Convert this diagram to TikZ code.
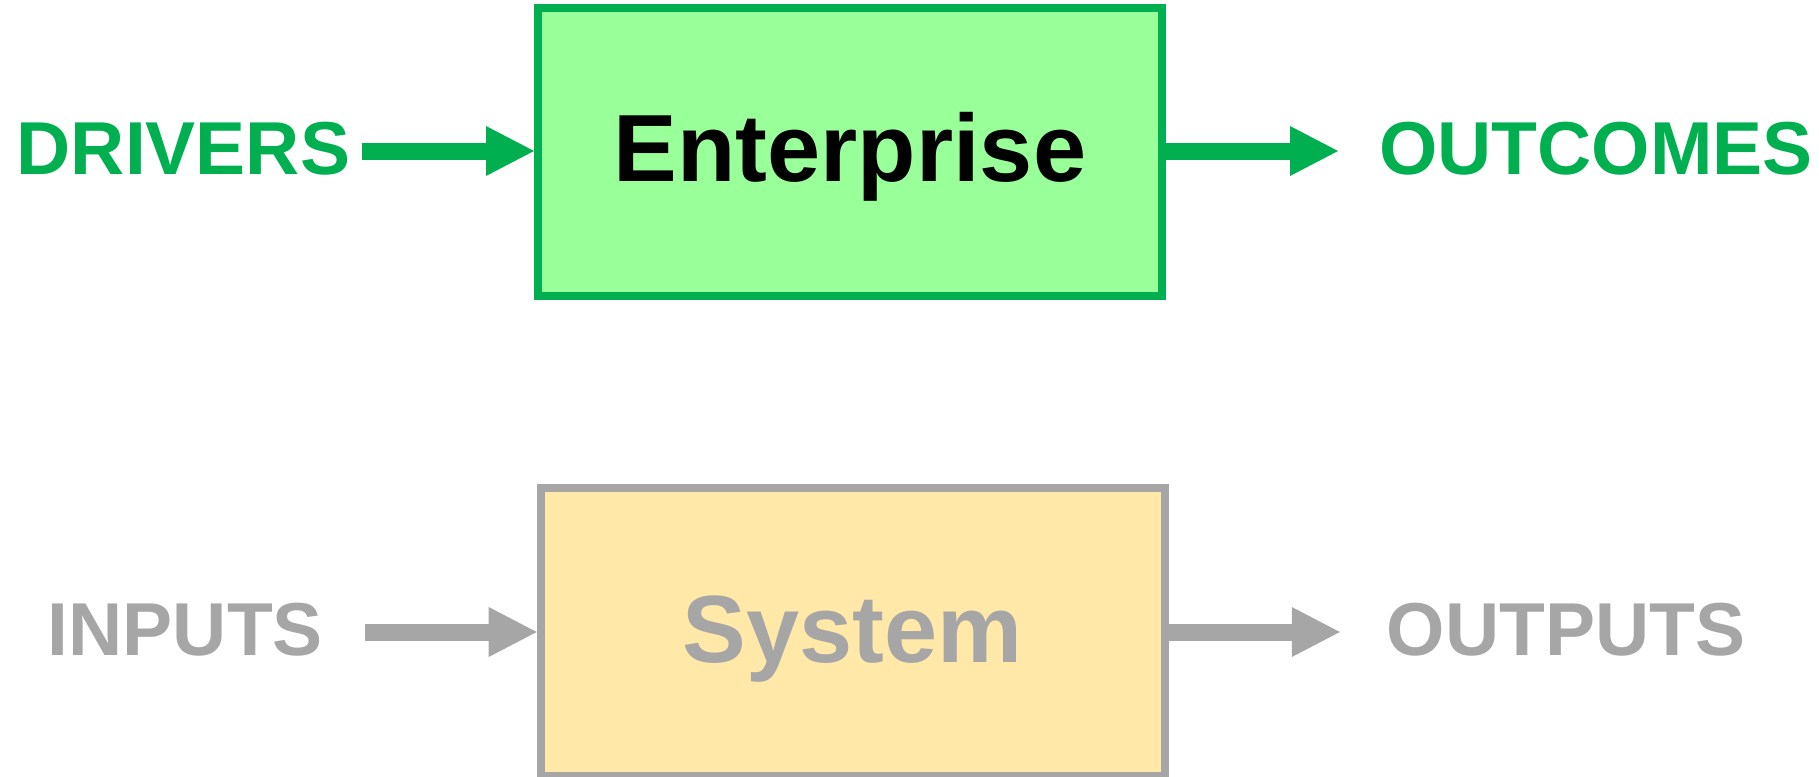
\documentclass[tikz,border=0pt]{standalone}
\usepackage{fontspec}
\setmainfont{Liberation Sans}
\usetikzlibrary{arrows.meta}
\definecolor{entgreen}{HTML}{00B050}
\definecolor{entfill}{HTML}{99FF99}
\definecolor{sysgray}{HTML}{A6A6A6}
\definecolor{sysfill}{HTML}{FFE8A8}
\begin{document}
\begin{tikzpicture}[x=1pt,y=-1pt,
  blockbox/.style={rectangle, line width=8pt, minimum width=624pt, minimum height=288pt, inner sep=0pt},
  sidelabel/.style={inner sep=0pt, anchor=base west, font=\fontsize{75}{90}\selectfont\bfseries},
  blocklabel/.style={inner sep=0pt, anchor=base, font=\fontsize{95.5}{110}\selectfont\bfseries},
  flow/.style={line width=17pt, -{Triangle[length=48pt,width=50pt,line width=0pt]}}
]
\useasboundingbox (0,0) rectangle (1819,776);
\node[blockbox, draw=entgreen, fill=entfill] (ent) at (850,152) {};
\node[blockbox, draw=sysgray, fill=sysfill] (sys) at (852.7,632) {};
\node[blocklabel, text=black] (entlabel) at (850,181.7) {Enterprise};
\node[blocklabel, text=sysgray] (syslabel) at (852.7,662.5) {System};
\node[sidelabel, text=entgreen] (drivers) at (16.5,174.3) {DRIVERS};
\node[sidelabel, text=entgreen] (outcomes) at (1379,174.3) {OUTCOMES};
\node[sidelabel, text=sysgray] (inputs) at (47.7,655.7) {INPUTS};
\node[sidelabel, text=sysgray] (outputs) at (1386.6,655.7) {OUTPUTS};
\coordinate (drvstart) at (362,151);
\coordinate (outtip) at (1338,151);
\coordinate (inpstart) at (364.7,632);
\coordinate (outptip) at (1339.8,632);
\draw[flow, entgreen] (drvstart) -- (drvstart -| ent.west);
\draw[flow, entgreen] (ent.east |- outtip) -- (outtip);
\draw[flow, sysgray] (inpstart) -- (inpstart -| sys.west);
\draw[flow, sysgray] (sys.east |- outptip) -- (outptip);
\end{tikzpicture}
\end{document}
